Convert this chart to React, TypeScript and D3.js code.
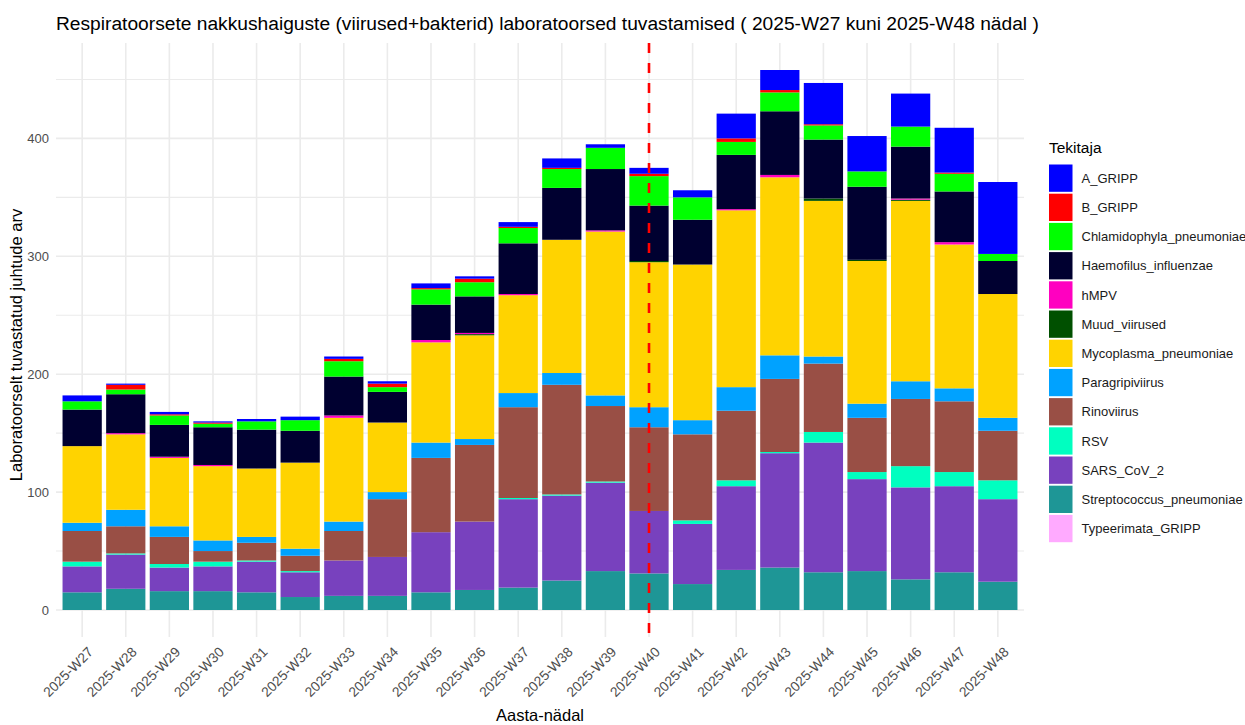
import React from "react";
import * as d3 from "d3";

// weeks on the x axis
const weeks = [
  "2025-W27", "2025-W28", "2025-W29", "2025-W30", "2025-W31", "2025-W32",
  "2025-W33", "2025-W34", "2025-W35", "2025-W36", "2025-W37", "2025-W38",
  "2025-W39", "2025-W40", "2025-W41", "2025-W42", "2025-W43", "2025-W44",
  "2025-W45", "2025-W46", "2025-W47", "2025-W48",
];

// counts per pathogen, one value per week
const A_GRIPP = [5, 1, 2, 1, 2, 3, 2, 2, 4, 2, 4, 8, 3, 5, 6, 21, 17, 35, 30, 28, 38, 61];
const B_GRIPP = [0, 4, 1, 1, 0, 0, 2, 3, 1, 3, 1, 1, 0, 2, 0, 3, 2, 1, 0, 0, 1, 0];
const Chlamidophyla = [7, 4, 8, 3, 7, 9, 13, 4, 13, 12, 13, 16, 18, 25, 19, 11, 16, 12, 13, 17, 15, 6];
const Haemofilus = [31, 33, 27, 32, 33, 27, 33, 26, 30, 31, 43, 44, 52, 47, 38, 46, 54, 50, 62, 44, 43, 28];
const hMPV = [0, 1, 1, 1, 0, 0, 2, 0, 2, 1, 1, 0, 1, 0, 0, 1, 2, 0, 0, 1, 2, 0];
const Muud = [0, 0, 0, 0, 0, 0, 0, 0, 0, 1, 0, 0, 0, 1, 0, 0, 0, 2, 1, 1, 0, 0];
const Mycoplasma = [65, 64, 58, 63, 58, 73, 88, 59, 85, 88, 83, 113, 139, 123, 132, 150, 151, 132, 121, 153, 122, 105];
const Paragripi = [7, 14, 9, 9, 5, 6, 8, 6, 13, 5, 12, 10, 9, 17, 12, 20, 20, 6, 12, 15, 11, 11];
const Rino = [26, 23, 23, 9, 15, 13, 25, 49, 63, 65, 77, 93, 64, 71, 73, 59, 62, 58, 46, 57, 60, 42];
const RSV = [4, 1, 3, 4, 1, 1, 0, 0, 0, 0, 1, 1, 1, 0, 3, 5, 1, 9, 6, 18, 12, 16];
const SARS = [22, 29, 20, 21, 26, 21, 30, 33, 51, 58, 75, 72, 75, 53, 51, 71, 97, 110, 78, 78, 73, 70];
const Strepto = [15, 18, 16, 16, 15, 11, 12, 12, 15, 17, 19, 25, 33, 31, 22, 34, 36, 32, 33, 26, 32, 24];
const Typeerimata = [0, 0, 0, 0, 0, 0, 0, 0, 0, 0, 0, 0, 0, 0, 0, 0, 0, 0, 0, 0, 0, 0];

// legend order (top of stack first)
const keys = [
  "A_GRIPP", "B_GRIPP", "Chlamidophyla_pneumoniae", "Haemofilus_influenzae",
  "hMPV", "Muud_viirused", "Mycoplasma_pneumoniae", "Paragripiviirus",
  "Rinoviirus", "RSV", "SARS_CoV_2", "Streptococcus_pneumoniae", "Typeerimata_GRIPP",
];
const series = [
  A_GRIPP, B_GRIPP, Chlamidophyla, Haemofilus, hMPV, Muud, Mycoplasma,
  Paragripi, Rino, RSV, SARS, Strepto, Typeerimata,
];
const colors = [
  "#0000FF", "#FF0000", "#00FF00", "#000030", "#FF00C0", "#005000", "#FFD300",
  "#00A2FF", "#994F45", "#00FFC0", "#7841BE", "#1E9696", "#FFAAFF",
];
const markerWeek = "2025-W40";
const yTicks = [0, 100, 200, 300, 400];

const W = 1245;
const H = 725;
const left = 56, right = 1024, top = 43, bottom = 637;
const font = "'Liberation Sans', Arial, Helvetica, sans-serif";

export default function App() {
  const rows = weeks.map((w, i) => {
    const r: any = { week: w };
    keys.forEach((k, j) => (r[k] = series[j][i]));
    return r;
  });
  const stackKeys = [...keys].reverse();
  const stacked = d3.stack().keys(stackKeys)(rows);
  const colorOf = d3.scaleOrdinal<string, string>().domain(keys).range(colors);

  const maxTotal = d3.max(rows, (r: any) => d3.sum(keys, (k) => r[k])) as number;
  const pad = maxTotal * 0.05;
  const x = d3.scalePoint().domain(weeks).range([left, right]).padding(0.6);
  const y = d3.scaleLinear().domain([-pad, maxTotal + pad]).range([bottom, top]);
  const bw = x.step() * 0.9;
  const minor = d3.range(50, maxTotal + pad, 100);

  return (
    <svg width={W} height={H} style={{ position: "absolute", left: 0, top: 0, background: "white" }} fontFamily={font}>
      {/* grid */}
      {minor.map((v) => (
        <line key={"mn" + v} x1={left} x2={right} y1={y(v)} y2={y(v)} stroke="#ebebeb" strokeWidth={1.1} />
      ))}
      {yTicks.map((v) => (
        <line key={"mj" + v} x1={left} x2={right} y1={y(v)} y2={y(v)} stroke="#ebebeb" strokeWidth={1.6} />
      ))}
      {weeks.map((w) => (
        <line key={"vg" + w} x1={x(w)} x2={x(w)} y1={top} y2={bottom} stroke="#ebebeb" strokeWidth={1.6} />
      ))}

      {/* bars */}
      {stacked.map((s) => (
        <g key={s.key} fill={colorOf(s.key)}>
          {s.map((d: any, i) =>
            d[1] - d[0] > 0 ? (
              <rect key={i} x={(x(weeks[i]) as number) - bw / 2} y={y(d[1])} width={bw} height={y(d[0]) - y(d[1])} />
            ) : null
          )}
        </g>
      ))}

      {/* marker line */}
      <line x1={x(markerWeek)} x2={x(markerWeek)} y1={top} y2={bottom} stroke="#FF0000" strokeWidth={2.6} strokeDasharray="10 10" />

      {/* y axis labels */}
      {yTicks.map((v) => (
        <text key={"yt" + v} x={left - 7} y={y(v)} dy="0.35em" textAnchor="end" fontSize={13} fill="#4d4d4d">
          {v}
        </text>
      ))}
      {/* x axis labels */}
      {weeks.map((w) => (
        <text
          key={"xt" + w}
          transform={`translate(${(x(w) as number) + 5},${bottom + 9}) rotate(-45)`}
          textAnchor="end"
          dy="0.7em"
          fontSize={13.8}
          fill="#4d4d4d"
        >
          {w}
        </text>
      ))}

      {/* titles */}
      <text x={left} y={30} fontSize={19.2} fill="#000">
        Respiratoorsete nakkushaiguste (viirused+bakterid) laboratoorsed tuvastamised ( 2025-W27 kuni 2025-W48 nädal )
      </text>
      <text x={(left + right) / 2} y={721} textAnchor="middle" fontSize={16.5} fill="#000">
        Aasta-nädal
      </text>
      <text transform={`translate(22,345) rotate(-90)`} textAnchor="middle" fontSize={16.5} fill="#000">
        Laboratoorselt tuvastatud juhtude arv
      </text>

      {/* legend */}
      <text x={1049} y={153} fontSize={15.5} fill="#000">Tekitaja</text>
      {keys.map((k, i) => (
        <g key={"lg" + k} transform={`translate(1049,${164.5 + i * 29.2})`}>
          <rect width={23.5} height={27.3} fill={colorOf(k)} />
          <text x={32.5} y={13.7} dy="0.35em" fontSize={13} fill="#1a1a1a">{k}</text>
        </g>
      ))}
    </svg>
  );
}
